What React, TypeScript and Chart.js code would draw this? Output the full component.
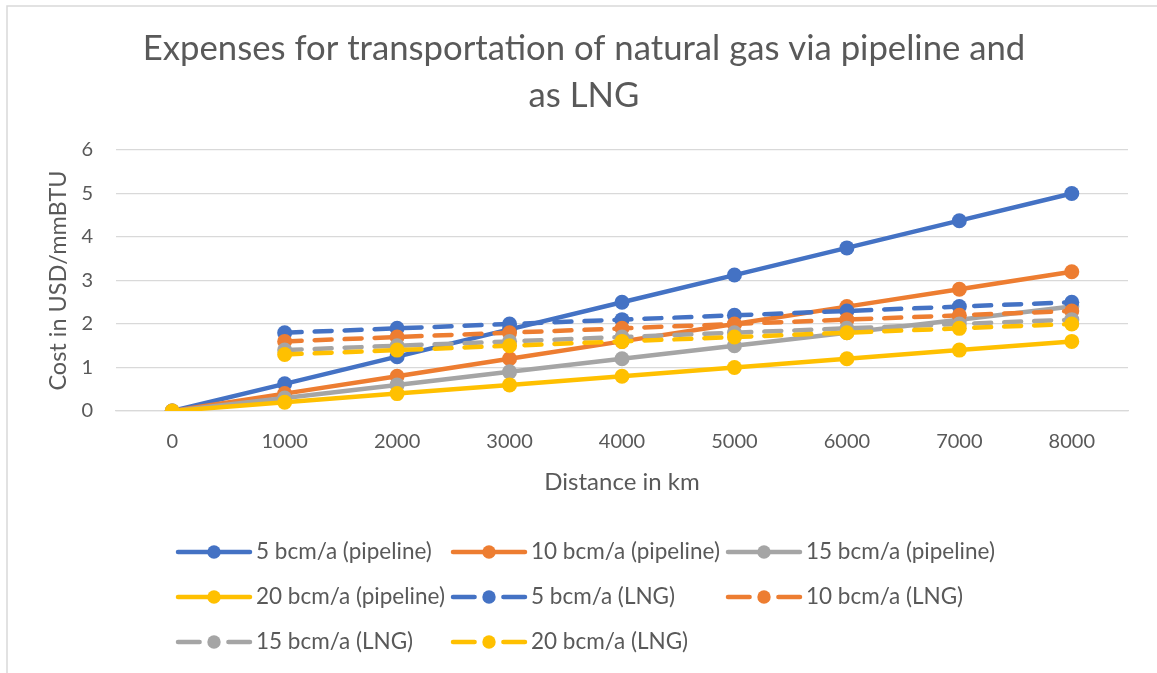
import React, { useEffect, useRef } from "react";
import { Chart, registerables } from "chart.js";

Chart.register(...registerables);

const categories = ["0", "1000", "2000", "3000", "4000", "5000", "6000", "7000", "8000"];

const pipe5 = [0, 0.625, 1.25, 1.875, 2.5, 3.125, 3.75, 4.375, 5];
const pipe10 = [0, 0.4, 0.8, 1.2, 1.6, 2.0, 2.4, 2.8, 3.2];
const pipe15 = [0, 0.3, 0.6, 0.9, 1.2, 1.5, 1.8, 2.1, 2.4];
const pipe20 = [0, 0.2, 0.4, 0.6, 0.8, 1.0, 1.2, 1.4, 1.6];
const lng5 = [null, 1.8, 1.9, 2.0, 2.1, 2.2, 2.3, 2.4, 2.5];
const lng10 = [null, 1.6, 1.7, 1.8, 1.9, 2.0, 2.1, 2.2, 2.3];
const lng15 = [null, 1.4, 1.5, 1.6, 1.7, 1.8, 1.9, 2.0, 2.1];
const lng20 = [null, 1.3, 1.4, 1.5, 1.6, 1.7, 1.8, 1.9, 2.0];

const seriesLabels = [
  "5 bcm/a (pipeline)",
  "10 bcm/a (pipeline)",
  "15 bcm/a (pipeline)",
  "20 bcm/a (pipeline)",
  "5 bcm/a (LNG)",
  "10 bcm/a (LNG)",
  "15 bcm/a (LNG)",
  "20 bcm/a (LNG)",
];
const seriesData = [pipe5, pipe10, pipe15, pipe20, lng5, lng10, lng15, lng20];
const seriesColors = ["#4472C4", "#ED7D31", "#A5A5A5", "#FFC000", "#4472C4", "#ED7D31", "#A5A5A5", "#FFC000"];
const seriesDashed = [false, false, false, false, true, true, true, true];

const titleLines = ["Expenses for transportation of natural gas via pipeline and", "as LNG"];
const xTitle = "Distance in km";
const yTitle = "Cost in USD/mmBTU";

const TEXT = "#595959";
const GRID = "#D9D9D9";
const FONT = "Lato";
const DASH = [17, 13];

const framePlugin = {
  id: "frame",
  beforeDraw(chart: any) {
    const ctx = chart.ctx;
    ctx.save();
    ctx.fillStyle = "#ffffff";
    ctx.fillRect(0, 0, chart.width, chart.height);
    ctx.strokeStyle = GRID;
    ctx.lineWidth = 1.5;
    ctx.strokeRect(7, 6, chart.width + 20, chart.height + 20);
    ctx.restore();
  },
};

const gridLegendPlugin = {
  id: "gridLegend",
  afterDraw(chart: any) {
    const ctx = chart.ctx;
    const x0 = 178;
    const colW = 275;
    const y0 = 552;
    const rowH = 45;
    const lineLen = 72;
    chart.data.datasets.forEach((ds: any, i: number) => {
      const col = i % 3;
      const row = Math.floor(i / 3);
      const x = x0 + col * colW;
      const y = y0 + row * rowH;
      const dashed = ds.borderDash && ds.borderDash.length > 0;
      ctx.save();
      ctx.strokeStyle = ds.borderColor;
      ctx.lineWidth = ds.borderWidth;
      ctx.lineCap = "round";
      ctx.setLineDash(dashed ? [lineLen * 0.3, lineLen * 0.4] : []);
      ctx.beginPath();
      ctx.moveTo(x, y);
      ctx.lineTo(x + lineLen, y);
      ctx.stroke();
      ctx.setLineDash([]);
      ctx.fillStyle = ds.pointBackgroundColor;
      ctx.beginPath();
      ctx.arc(x + lineLen / 2, y, 6.7, 0, Math.PI * 2);
      ctx.fill();
      ctx.fillStyle = TEXT;
      ctx.font = `22.5px ${FONT}`;
      ctx.textBaseline = "middle";
      ctx.textAlign = "left";
      ctx.fillText(ds.label, x + lineLen + 6, y);
      ctx.restore();
    });
  },
};

export default function App() {
  const ref = useRef<HTMLCanvasElement | null>(null);

  useEffect(() => {
    document.body.style.margin = "0";
    const canvas = ref.current;
    if (!canvas) return;
    const datasets = seriesData.map((d, i) => ({
      label: seriesLabels[i],
      data: d,
      borderColor: seriesColors[i],
      backgroundColor: seriesColors[i],
      pointBackgroundColor: seriesColors[i],
      pointBorderColor: seriesColors[i],
      pointRadius: 7.5,
      pointHoverRadius: 7.5,
      pointBorderWidth: 0,
      borderWidth: 4.5,
      borderCapStyle: "round" as const,
      borderJoinStyle: "round" as const,
      borderDash: seriesDashed[i] ? DASH : [],
      spanGaps: false,
      tension: 0,
      order: seriesData.length - 1 - i,
    }));
    const chart = new Chart(canvas, {
      type: "line",
      data: { labels: categories, datasets },
      options: {
        animation: false,
        responsive: true,
        maintainAspectRatio: false,
        layout: { padding: { left: 40, right: 29, top: 0, bottom: 172 } },
        plugins: {
          legend: { display: false },
          tooltip: { enabled: false },
          title: {
            display: true,
            text: titleLines,
            color: TEXT,
            font: { family: FONT, size: 34.7, weight: "normal", lineHeight: 47 / 34.7 },
            padding: { top: 25.5, bottom: 30.5 },
          },
        },
        scales: {
          x: {
            type: "category",
            offset: true,
            grid: { display: false, drawTicks: false },
            border: { display: true, color: GRID, width: 1.3 },
            ticks: { color: TEXT, font: { family: FONT, size: 20 }, padding: 19, maxRotation: 0 },
            title: {
              display: true,
              text: xTitle,
              color: TEXT,
              font: { family: FONT, size: 24, lineHeight: 1.2 },
              padding: { top: 0, bottom: 4.6 },
            },
            afterFit(scale: any) {
              scale.height = 90;
            },
          },
          y: {
            min: 0,
            max: 6,
            ticks: { stepSize: 1, color: TEXT, font: { family: FONT, size: 20 }, padding: 23 },
            grid: { color: GRID, lineWidth: 1.3, drawTicks: false },
            border: { display: false },
            title: {
              display: true,
              text: yTitle,
              color: TEXT,
              font: { family: FONT, size: 23.5, lineHeight: 1.2 },
              padding: { top: 4, bottom: 0 },
            },
            afterFit(scale: any) {
              scale.width = 76;
            },
          },
        },
      },
      plugins: [framePlugin, gridLegendPlugin],
    });
    return () => chart.destroy();
  }, []);

  return (
    <div style={{ width: 1157, height: 673, position: "relative" }}>
      <canvas ref={ref} style={{ display: "block" }} />
    </div>
  );
}
